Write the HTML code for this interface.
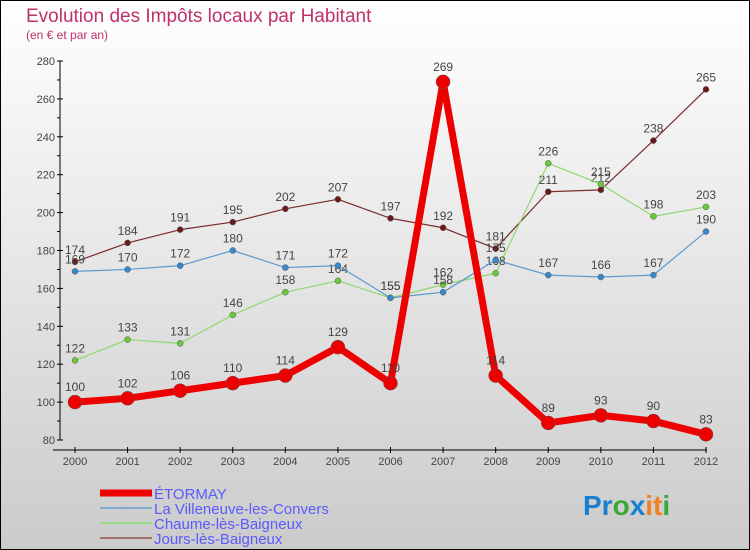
<!DOCTYPE html>
<html><head><meta charset="utf-8"><style>
body{margin:0}
svg{display:block;font-family:"Liberation Sans",sans-serif}
</style></head><body>
<svg id="c" width="750" height="550" xmlns="http://www.w3.org/2000/svg">
<defs><linearGradient id="bg" x1="0" y1="0" x2="0" y2="1"><stop offset="0" stop-color="#ffffff"/><stop offset="1" stop-color="#cbcbcb"/></linearGradient></defs>
<rect x="0.5" y="0.5" width="749" height="549" fill="url(#bg)" stroke="#000"/>
<text x="26" y="22" font-size="19" fill="#c0306a">Evolution des Impôts locaux par Habitant</text>
<text x="26" y="39" font-size="12" fill="#c0306a">(en € et par an)</text>
<g id="axes"></g><g id="series"></g><g id="legend"></g>
<text x="583" y="515" font-size="28" font-weight="bold"><tspan fill="#1a7fd0">Pr</tspan><tspan fill="#3aa83a">o</tspan><tspan fill="#1a7fd0">x</tspan><tspan fill="#f08020">it</tspan><tspan fill="#3aa83a">i</tspan></text>
</svg>
<script>
const years=[2000,2001,2002,2003,2004,2005,2006,2007,2008,2009,2010,2011,2012];
const yTicks=[80,100,120,140,160,180,200,220,240,260,280];
const etormay=[100,102,106,110,114,129,110,269,114,89,93,90,83];
const villeneuve=[169,170,172,180,171,172,155,158,175,167,166,167,190];
const chaume=[122,133,131,146,158,164,155,162,168,226,215,198,203];
const jours=[174,184,191,195,202,207,197,192,181,211,212,238,265];
const NS="http://www.w3.org/2000/svg";
const X=i=>75+i*(706-75)/12;
const Y=v=>440-(v-80)*(440-61)/200;
function mk(t,a,p){const e=document.createElementNS(NS,t);for(const k in a)e.setAttribute(k,a[k]);p.appendChild(e);return e;}
const ax=document.getElementById('axes');
mk('line',{x1:60,y1:61,x2:60,y2:440,stroke:'#000'},ax);
mk('line',{x1:53,y1:450,x2:707,y2:450,stroke:'#000'},ax);
yTicks.forEach(v=>{
 mk('line',{x1:57,y1:Y(v),x2:63,y2:Y(v),stroke:'#000'},ax);
 if(v<280) mk('line',{x1:57,y1:Y(v+10),x2:60,y2:Y(v+10),stroke:'#000'},ax);
 const t=mk('text',{x:55,y:Y(v)+4,'text-anchor':'end','font-size':11,fill:'#444'},ax);t.textContent=v;
 
 
});
years.forEach((y,i)=>{
 mk('line',{x1:X(i),y1:447,x2:X(i),y2:453,stroke:'#000'},ax);
 const t=mk('text',{x:X(i),y:465,'text-anchor':'middle','font-size':11,fill:'#444'},ax);t.textContent=y;
 
 
});
const sg=document.getElementById('series');
function series(d,col,dot,w,r,name){
 const g=mk('g',{},sg);
 
 
 mk('polyline',{points:d.map((v,i)=>X(i)+','+Y(v)).join(' '),fill:'none',stroke:col,'stroke-width':w,'stroke-linejoin':'round'},g);
 d.forEach((v,i)=>{
  const c=mk('circle',{cx:X(i),cy:Y(v),r:r,fill:dot,stroke:'#555','stroke-width':0.5},g);
  
  
  const t=mk('text',{x:X(i),y:Y(v)-8-(r>4?3:0),'text-anchor':'middle','font-size':12,fill:'#444'},g);t.textContent=v;
  
  
 });
}
series(jours,'#7a2a2a','#6a1a1a',1.2,3,'series-jours');
series(chaume,'#90d870','#6cc83a',1.2,3,'series-chaume');
series(villeneuve,'#5a9ad0','#3a88cc',1.2,3,'series-villeneuve');
series(etormay,'#ee0000','#ee0000',7,7,'series-etormay');
const lg=document.getElementById('legend');
const items=[['ÉTORMAY','#ee0000',7],['La Villeneuve-les-Convers','#80aad0',2],['Chaume-lès-Baigneux','#98d880',2],['Jours-lès-Baigneux','#a07070',2]];
items.forEach((it,i)=>{
 const y=493+i*15;
 mk('line',{x1:100,y1:y,x2:152,y2:y,stroke:it[1],'stroke-width':it[2]},lg);
 const t=mk('text',{x:154,y:y+6,'font-size':15,fill:'#5a5aff'},lg);t.textContent=it[0];
 
 
});
</script>
</body></html>
